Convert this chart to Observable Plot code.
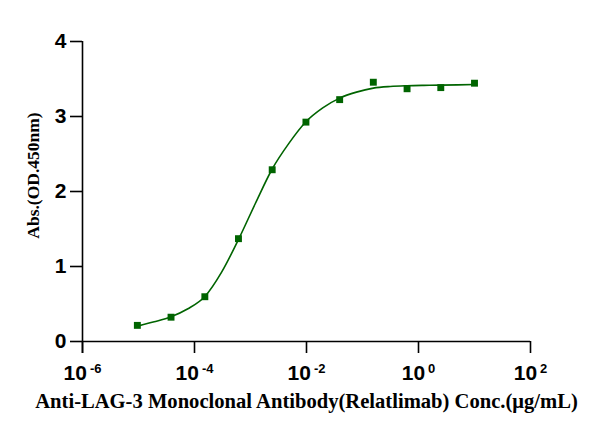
<!DOCTYPE html>
<html>
<head>
<meta charset="utf-8">
<script src="https://cdn.jsdelivr.net/npm/d3@7"></script>
<script src="https://cdn.jsdelivr.net/npm/@observablehq/plot@0.6"></script>
<style>
  html, body { margin: 0; padding: 0; background: #fff; }
</style>
</head>
<body>
<div id="chart"></div>
<script>
// Measured points (4-fold dilution series, µg/mL)
const concentrations = [9.54e-6, 3.81e-5, 1.53e-4, 6.10e-4, 2.44e-3, 9.77e-3, 0.0391, 0.156, 0.625, 2.5, 10];
const absorbance     = [0.215, 0.324, 0.597, 1.371, 2.290, 2.925, 3.225, 3.457, 3.370, 3.385, 3.444];

// Fitted curve
const fitConcentrations = [9.54e-6, 1.91e-5, 3.81e-5, 7.63e-5, 1.53e-4, 3.05e-4, 6.10e-4, 1.22e-3, 2.44e-3, 4.88e-3, 9.77e-3, 0.0195, 0.0391, 0.078, 0.156, 0.3125, 0.625, 1.25, 2.5, 5, 10];
const fitAbsorbance     = [0.205, 0.262, 0.330, 0.436, 0.600, 0.925, 1.360, 1.840, 2.300, 2.645, 2.930, 3.115, 3.245, 3.325, 3.378, 3.400, 3.410, 3.415, 3.418, 3.422, 3.427];

// Axes
const xTicks = [1e-6, 1e-4, 1e-2, 1, 100];
const xTickExponents = ["-6", "-4", "-2", "0", "2"];
const yTicks = [0, 1, 2, 3, 4];
const xTitle = "Anti-LAG-3 Monoclonal Antibody(Relatlimab) Conc.(μg/mL)";
const yTitle = "Abs.(OD.450nm)";

const points = concentrations.map((c, i) => ({conc: c, abs: absorbance[i]}));
const fit = fitConcentrations.map((c, i) => ({conc: c, abs: fitAbsorbance[i]}));

const green = "#006400";
const tickFont = "'Liberation Sans', Arial, sans-serif";
const titleFont = "'Liberation Serif', 'Times New Roman', serif";

const chart = Plot.plot({
  width: 602,
  height: 435,
  marginLeft: 82,
  marginRight: 72,
  marginTop: 41,
  marginBottom: 94,
  style: {background: "#fff", overflow: "visible", color: "#000"},
  x: {type: "log", domain: [xTicks[0], xTicks[xTicks.length - 1]]},
  y: {domain: [yTicks[0], yTicks[yTicks.length - 1]]},
  marks: [
    Plot.axisY(yTicks, {
      tickSize: 12, tickPadding: 4, strokeWidth: 1.6,
      fontSize: 21, fontWeight: "bold", fontFamily: tickFont,
      tickFormat: d => String(d), label: null
    }),
    Plot.axisX(xTicks, {
      tickSize: 12, tickPadding: 12, strokeWidth: 1.6,
      fontSize: 21, fontWeight: "bold", fontFamily: tickFont,
      tickFormat: (d) => xTickExponents[xTicks.indexOf(d)], label: null
    }),
    Plot.ruleY([yTicks[0]], {stroke: "#000", strokeWidth: 1.6}),
    Plot.ruleX([xTicks[0]], {stroke: "#000", strokeWidth: 1.6, insetBottom: -12}),
    Plot.line(fit, {x: "conc", y: "abs", curve: "monotone-x", stroke: green, strokeWidth: 1.6}),
    Plot.dot(points, {x: "conc", y: "abs", symbol: "square", r: 3.9, fill: green, stroke: "none"}),
    Plot.text([xTitle], {
      frameAnchor: "bottom", lineAnchor: "middle", textAnchor: "middle", dy: 60,
      fontSize: 20.6, fontWeight: "bold", fontFamily: titleFont, fill: "#000"
    }),
    Plot.text([yTitle], {
      frameAnchor: "left", lineAnchor: "middle", textAnchor: "middle", rotate: -90, dx: -49, dy: -16,
      fontSize: 17.5, fontWeight: "bold", fontFamily: titleFont, fill: "#000"
    })
  ]
});

// Turn x tick labels into "10" with a superscript exponent
d3.select(chart).selectAll('g[aria-label="x-axis tick label"] text').each(function() {
  const exp = this.textContent;
  this.textContent = "";
  const t = d3.select(this);
  t.append("tspan").text("10");
  t.append("tspan").attr("dx", 3).attr("dy", -7).attr("font-size", 13).text(exp);
});

document.getElementById("chart").appendChild(chart);
</script>
</body>
</html>
